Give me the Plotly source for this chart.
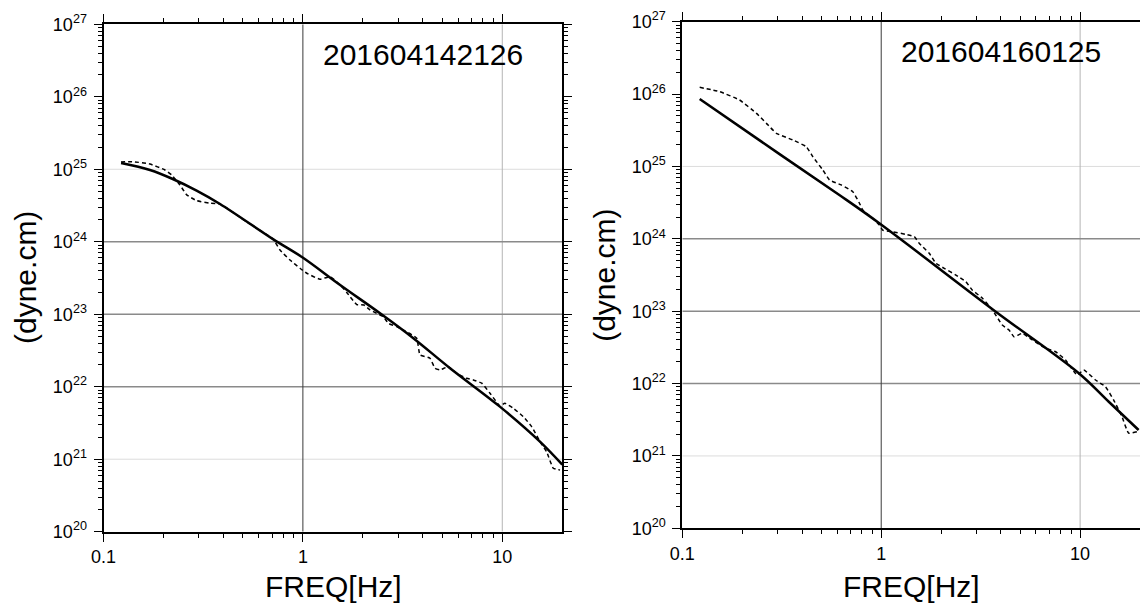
import math
import plotly.graph_objects as go

# ---------------------------------------------------------------------------
# Moment-rate spectra of two events: smooth source-model fit (solid) and the
# observed spectrum (dashed).  Frequencies in Hz, spectral level in dyne.cm.
# ---------------------------------------------------------------------------

EVENT_IDS = ["201604142126", "201604160125"]

# Event 201604142126
FREQ_A_FIT = [0.1225, 0.171, 0.224, 0.293, 0.384, 0.711, 0.993, 1.531,
              2.438, 3.581, 5.470, 9.727, 15.45, 20.0]
MOMENT_A_FIT = [1.22e25, 9.77e24, 7.28e24, 5.07e24, 3.32e24, 1.08e24,
                6.11e23, 2.55e23, 1.03e23, 4.67e22, 1.80e22, 5.32e21,
                1.75e21, 8.4e20]

FREQ_A_OBS = [0.1224, 0.1410, 0.1711, 0.2034, 0.2198, 0.2418, 0.2614,
              0.2934, 0.3420, 0.3839, 0.525, 0.710, 0.7677, 0.8615, 0.9669,
              1.045, 1.218, 1.368, 1.535, 1.659, 1.862, 2.025, 2.171, 2.345,
              2.531, 2.681, 2.954, 3.251, 3.722, 3.867, 4.340, 4.598, 4.871,
              5.360, 5.906, 6.630, 7.155, 7.884, 8.676, 9.739, 10.31, 11.36,
              12.74, 14.04, 15.46, 16.70, 18.02, 19.48]
MOMENT_A_OBS = [1.26e25, 1.27e25, 1.18e25, 9.77e24, 8.34e24, 6.07e24,
                4.43e24, 3.69e24, 3.40e24, 3.32e24, 1.86e24, 1.08e24,
                7.69e23, 5.60e23, 4.31e23, 3.68e23, 3.04e23, 3.30e23,
                2.54e23, 2.00e23, 1.36e23, 1.34e23, 1.15e23, 1.03e23,
                9.27e22, 7.52e22, 6.75e22, 5.89e22, 4.67e22, 2.75e22,
                2.47e22, 1.80e22, 1.71e22, 1.89e22, 1.53e22, 1.31e22,
                1.24e22, 1.12e22, 8.13e21, 5.43e21, 5.92e21, 5.05e21,
                3.87e21, 2.82e21, 1.75e21, 1.26e21, 7.52e20, 7.11e20]

# Event 201604160125
FREQ_B_FIT = [0.1223, 0.3083, 0.6160, 0.9784, 3.767, 9.851, 13.93, 19.68]
MOMENT_B_FIT = [8.55e25, 1.48e25, 4.03e24, 1.64e24, 9.84e22, 1.39e22,
                5.61e21, 2.28e21]

FREQ_B_OBS = [0.1223, 0.1540, 0.1940, 0.2360, 0.2649, 0.2972, 0.3600,
              0.4203, 0.4535, 0.5088, 0.5497, 0.6295, 0.7197, 0.7775,
              0.8077, 0.9066, 0.9795, 1.0174, 1.142, 1.333, 1.467, 1.552,
              1.744, 1.884, 2.074, 2.374, 2.665, 2.875, 3.228, 3.623, 4.064,
              4.391, 4.653, 5.121, 5.746, 6.709, 7.529, 8.451, 9.661, 10.43,
              11.95, 13.41, 14.75, 16.24, 17.54, 19.31]
MOMENT_B_OBS = [1.24e26, 1.08e26, 8.28e25, 5.42e25, 3.94e25, 2.87e25,
                2.32e25, 1.87e25, 1.36e25, 8.93e24, 6.50e24, 5.55e24,
                4.48e24, 3.10e24, 2.50e24, 1.92e24, 1.55e24, 1.32e24,
                1.25e24, 1.15e24, 1.07e24, 8.67e23, 6.31e23, 4.59e23,
                3.91e23, 3.16e23, 2.55e23, 1.95e23, 1.51e23, 1.04e23,
                6.44e22, 5.50e22, 4.44e22, 4.94e22, 4.00e22, 3.07e22,
                2.75e22, 2.11e22, 1.31e22, 1.54e22, 1.12e22, 9.04e21,
                5.92e21, 3.48e21, 2.06e21, 2.16e21]

# Axis extents, labelled ticks and grid positions
X_RANGE = [0.1, 20.0]
Y_RANGE = [1e20, 1e27]
X_TICKS = [0.1, 1, 10]
X_TICK_TEXT = ["0.1", "1", "10"]
Y_EXPONENTS = [20, 21, 22, 23, 24, 25, 26, 27]
GRID_STRONG_Y = [1e22, 1e23, 1e24]
GRID_FAINT_Y = [1e21, 1e25]
GRID_STRONG_X = [1.0]
GRID_FAINT_X = [10.0]

X_TITLE = "FREQ[Hz]"
Y_TITLE = "(dyne.cm)"

FONT = "Liberation Sans, Arial, Helvetica, sans-serif"
W, H = 1140, 605

# Panel placement in pixels: (left, right, top, bottom)
PANELS = [
    (103.5, 562.3, 24.3, 531.7),
    (682.3, 1140.0, 21.7, 528.3),
]

# Intermediate (unlabelled) log ticks: 2..9 within each decade
X_MINOR = [m * 10.0 ** e for e in (-1, 0, 1) for m in range(2, 10)
           if m * 10.0 ** e < X_RANGE[1]]
Y_MINOR = [m * 10.0 ** e for e in range(20, 27) for m in range(2, 10)]

fig = go.Figure()

series = [
    (FREQ_A_FIT, MOMENT_A_FIT, FREQ_A_OBS, MOMENT_A_OBS),
    (FREQ_B_FIT, MOMENT_B_FIT, FREQ_B_OBS, MOMENT_B_OBS),
]

for i, (fx, fy, ox, oy) in enumerate(series):
    xa = "x" if i == 0 else "x2"
    ya = "y" if i == 0 else "y2"
    common = dict(xaxis=xa, yaxis=ya, mode="lines", hoverinfo="skip",
                  showlegend=False)
    # grid lines
    for gy in GRID_FAINT_Y:
        fig.add_trace(go.Scatter(x=X_RANGE, y=[gy, gy],
                                 line=dict(color="#dcdcdc", width=1), **common))
    for gx in GRID_FAINT_X:
        fig.add_trace(go.Scatter(x=[gx, gx], y=Y_RANGE,
                                 line=dict(color="#b4b4b4", width=1), **common))
    for gy in GRID_STRONG_Y:
        fig.add_trace(go.Scatter(x=X_RANGE, y=[gy, gy],
                                 line=dict(color="#8a8a8a", width=1.6), **common))
    for gx in GRID_STRONG_X:
        fig.add_trace(go.Scatter(x=[gx, gx], y=Y_RANGE,
                                 line=dict(color="#3a3a3a", width=1), **common))
    # observed spectrum
    fig.add_trace(go.Scatter(x=ox, y=oy,
                             line=dict(color="black", width=1.5,
                                       dash="4px,3px", shape="spline",
                                       smoothing=0.4),
                             **common))
    # model fit
    fig.add_trace(go.Scatter(x=fx, y=fy,
                             line=dict(color="black", width=2.5,
                                       shape="spline", smoothing=1.0),
                             **common))


def axis_common(minor_vals):
    return dict(
        type="log",
        showline=True, linecolor="black", linewidth=2, mirror="ticks",
        ticks="outside", ticklen=8, tickwidth=1.3, tickcolor="black",
        showgrid=False, zeroline=False, automargin=False,
        tickfont=dict(family=FONT, size=18, color="black"),
        minor=dict(ticks="outside", ticklen=4, tickwidth=1,
                   tickcolor="black", tickmode="array",
                   tickvals=minor_vals, showgrid=False),
    )


layout = dict(
    width=W, height=H,
    margin=dict(l=0, r=0, t=0, b=0),
    template="none",
    paper_bgcolor="white", plot_bgcolor="white",
    showlegend=False,
    font=dict(family=FONT, color="black"),
)

y_tickvals = [10.0 ** e for e in Y_EXPONENTS]
y_ticktext = ["10<sup>%d</sup>" % e for e in Y_EXPONENTS]

annotations = []
for i, (left, right, top, bottom) in enumerate(PANELS):
    sfx = "" if i == 0 else "2"
    xa = axis_common(X_MINOR)
    xa.update(domain=[left / W, min(right / W, 1.0)],
              range=[math.log10(X_RANGE[0]), math.log10(X_RANGE[1])],
              tickmode="array", tickvals=X_TICKS, ticktext=X_TICK_TEXT,
              anchor="y" + sfx)
    ya = axis_common(Y_MINOR)
    ya.update(domain=[1 - bottom / H, 1 - top / H],
              range=[math.log10(Y_RANGE[0]), math.log10(Y_RANGE[1])],
              tickmode="array", tickvals=y_tickvals, ticktext=y_ticktext,
              ticklabelstandoff=3, anchor="x" + sfx)
    layout["xaxis" + sfx] = xa
    layout["yaxis" + sfx] = ya

    cx = (left + 319.0) / W
    cy = 1 - (top + 30.3) / H
    annotations.append(dict(text=EVENT_IDS[i], x=cx, y=cy, xref="paper",
                            yref="paper", showarrow=False,
                            xanchor="center", yanchor="middle",
                            font=dict(family=FONT, size=30, color="black")))
    annotations.append(dict(text=X_TITLE, x=(left + 229.5) / W,
                            y=1 - 586.5 / H, xref="paper", yref="paper",
                            showarrow=False, xanchor="center",
                            yanchor="middle",
                            font=dict(family=FONT, size=30, color="black")))
    annotations.append(dict(text=Y_TITLE, x=(left - 78.5) / W,
                            y=1 - ((top + bottom) / 2) / H,
                            xref="paper", yref="paper", showarrow=False,
                            textangle=-90, xanchor="center",
                            yanchor="middle",
                            font=dict(family=FONT, size=30, color="black")))

layout["annotations"] = annotations
fig.update_layout(**layout)

fig.write_html("out.html")
